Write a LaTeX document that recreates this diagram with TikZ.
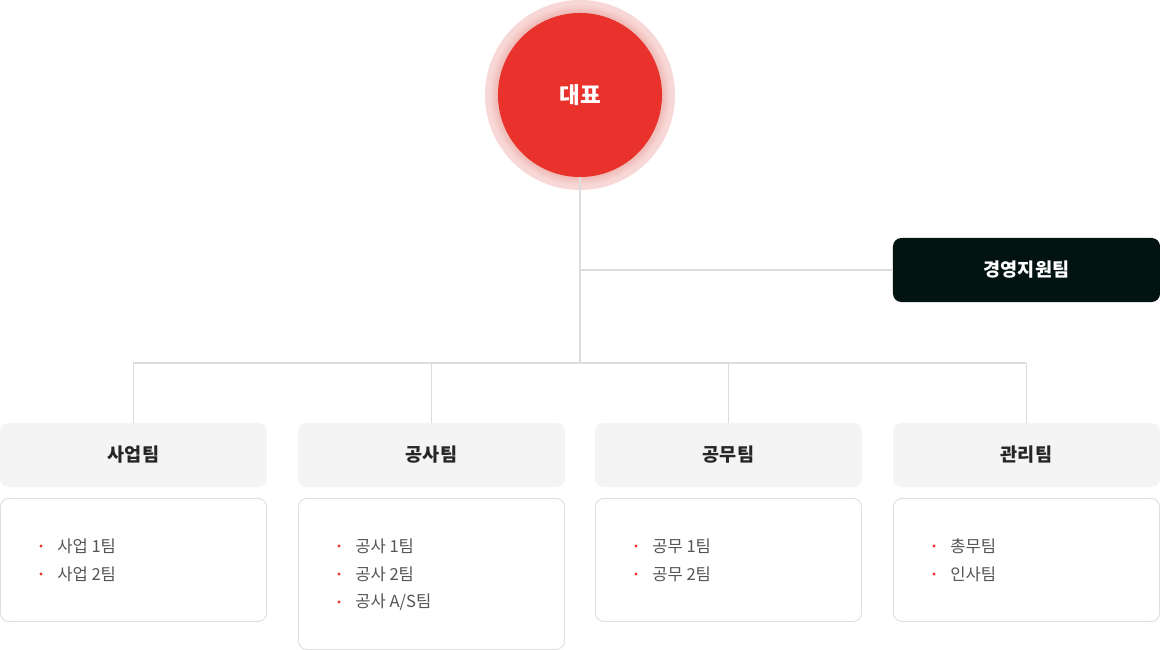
\documentclass[tikz,border=0pt]{standalone}
\usepackage{fontspec}
\setmainfont{Noto Sans CJK KR}
\definecolor{ceored}{HTML}{E8322B}
\definecolor{halo}{HTML}{F8D8D6}
\definecolor{halodark}{HTML}{EFBAB7}
\definecolor{linegray}{HTML}{DDDDDD}
\definecolor{headgray}{HTML}{F4F4F4}
\definecolor{darkbox}{HTML}{021311}
\definecolor{listtext}{HTML}{555555}
\tikzset{
  link/.style={draw=linegray, line width=0.8pt},
  teamhead/.style={fill=headgray, rounded corners=6pt, minimum width=6.675cm, minimum height=1.6cm, font=\fontsize{13.2}{15}\selectfont\bfseries, text=black!85},
  teamlist/.style={draw=linegray, fill=white, rounded corners=6pt, line width=0.6pt, minimum width=6.65cm},
  item/.style={anchor=west, font=\fontsize{11.8}{14}\selectfont, text=listtext, inner sep=0pt},
  dot/.style={fill=ceored, circle, inner sep=0pt, minimum size=2.2pt}
}
\begin{document}
\begin{tikzpicture}[x=0.025cm, y=-0.025cm]
\useasboundingbox (0,0) rectangle (1160,650);
% CEO
\fill[halo] (580,95) circle (95);
\foreach \r [evaluate=\r as \p using {(91-\r)*12}] in {91,90,...,83}
  \fill[halodark!\p!halo] (580,95) circle (\r);
\node[circle, fill=ceored, minimum size=4.1cm, inner sep=0pt, text=white, font=\fontsize{16}{18}\selectfont\bfseries] (ceo) at (580,95) {대표};
% support team
\node[fill=darkbox, rounded corners=6pt, minimum width=6.675cm, minimum height=1.6cm, text=white, font=\fontsize{13.2}{15}\selectfont\bfseries] (support) at (1026.5,270) {경영지원팀};
% team headers
\node[teamhead] (biz) at (133.5,455) {사업팀};
\node[teamhead] (cons) at (431.5,455) {공사팀};
\node[teamhead] (works) at (728.5,455) {공무팀};
\node[teamhead] (admin) at (1026.5,455) {관리팀};
% junctions
\coordinate (mid) at (580,270);
\coordinate (bus) at (580,363);
\coordinate (busL) at (133,363);
\coordinate (busR) at (1026,363);
\draw[link] (ceo.south) -- (bus);
\draw[link] (mid) -- (support.west);
\draw[link] (busL) -- (busR);
\foreach \t in {biz,cons,works,admin}
  \draw[link] (\t.north |- bus) -- (\t.north);
% lists
\node[teamlist, minimum height=3.075cm, anchor=north] (bizlist) at (133.5,498) {};
\node[teamlist, minimum height=3.775cm, anchor=north] (conslist) at (431.5,498) {};
\node[teamlist, minimum height=3.075cm, anchor=north] (workslist) at (728.5,498) {};
\node[teamlist, minimum height=3.075cm, anchor=north] (adminlist) at (1026.5,498) {};
\foreach \x/\n/\items in {0/biz/{사업 1팀,사업 2팀}, 298/cons/{공사 1팀,공사 2팀,공사 A/S팀}, 595/works/{공무 1팀,공무 2팀}, 893/admin/{총무팀,인사팀}}{
  \foreach \it [count=\i] in \items {
    \node[dot] (\n dot\i) at (\x+41,518+28*\i) {};
    \node[item] (\n item\i) at (\x+57,518+28*\i) {\it};
  }
}
\end{tikzpicture}
\end{document}
